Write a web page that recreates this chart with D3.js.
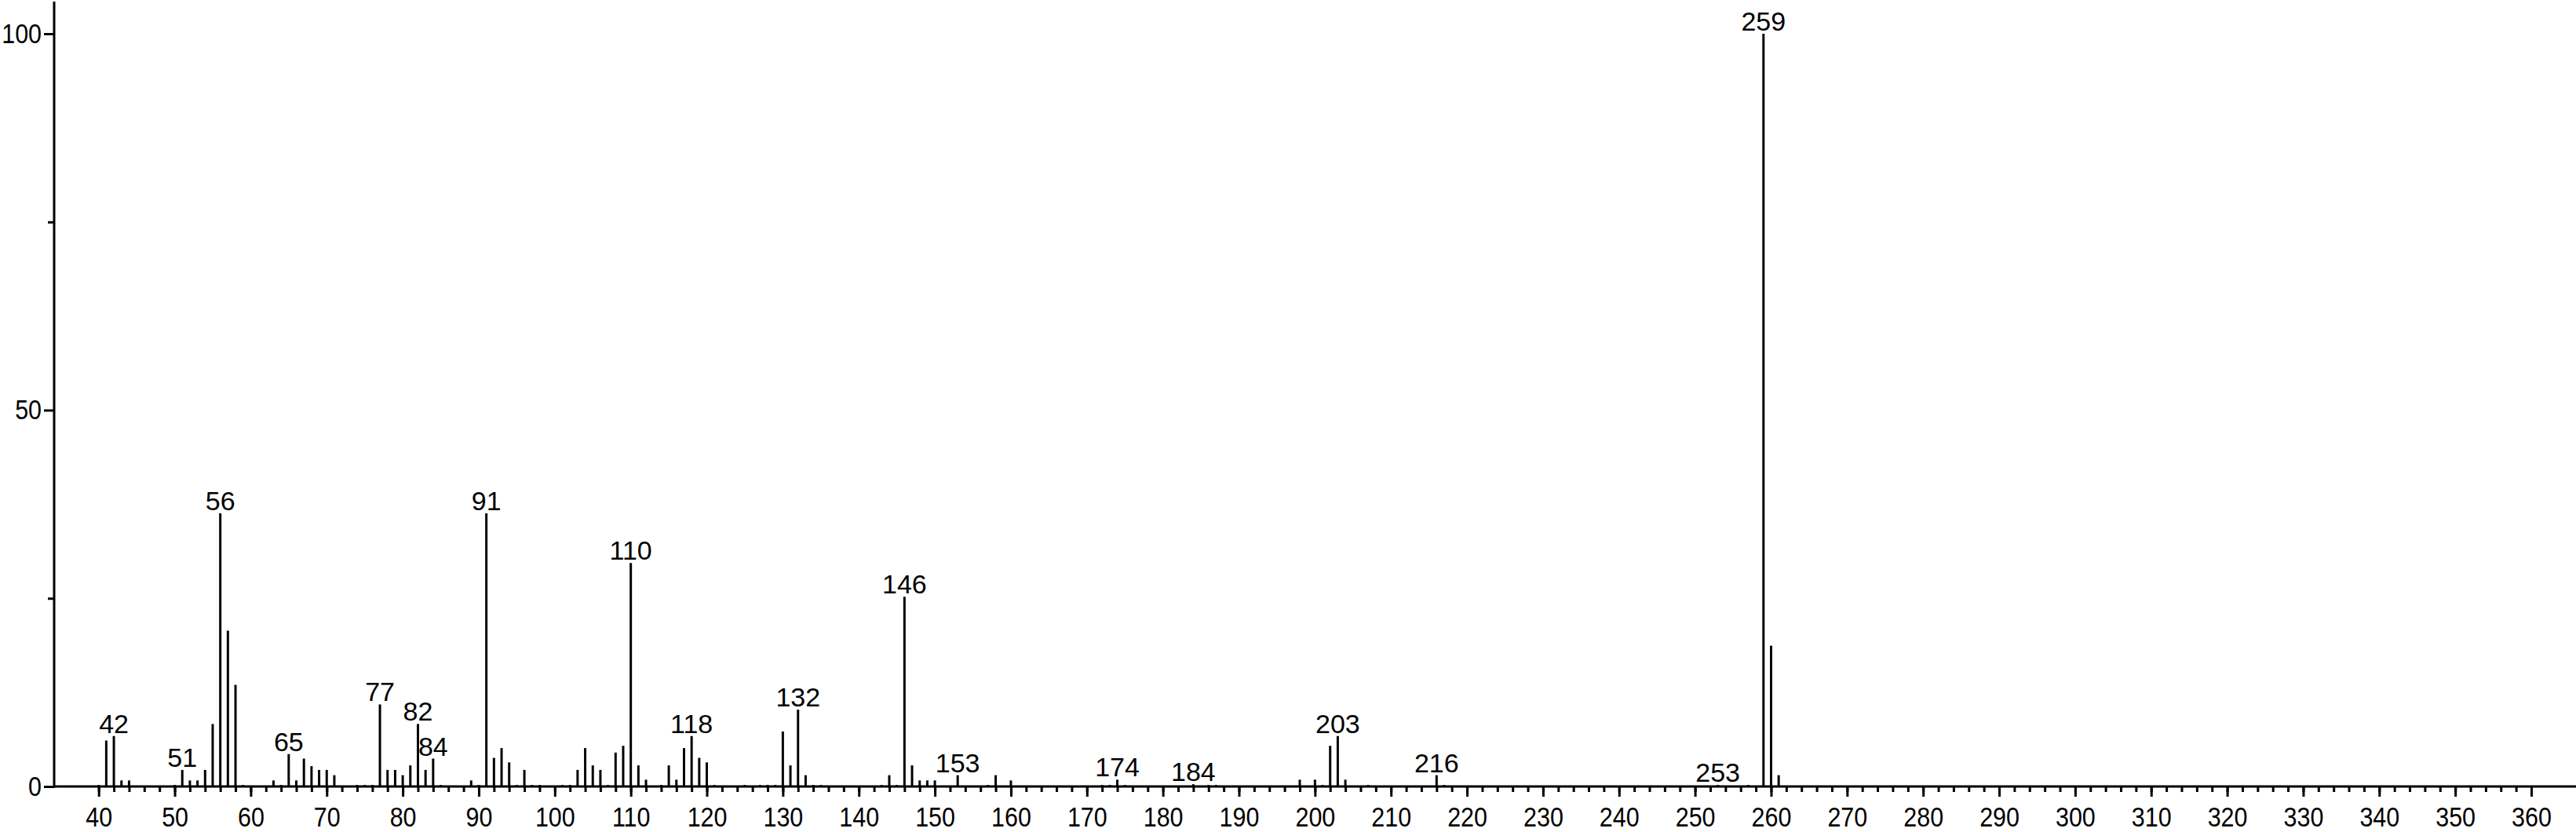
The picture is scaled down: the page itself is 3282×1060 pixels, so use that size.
<!DOCTYPE html>
<html>
<head>
<meta charset="utf-8">
<script src="https://cdn.jsdelivr.net/npm/d3@7"></script>
<style>
  html, body { margin: 0; padding: 0; background: #fff; }
  svg { display: block; font-family: "Liberation Sans", Arial, sans-serif; }
</style>
</head>
<body>
<svg id="chart" width="3282" height="1060"></svg>
<script>
// m/z and relative intensity
let mz = [40, 41, 42, 43, 44, 50, 51, 52, 53, 54, 55, 56, 57, 58, 59, 63, 64, 65, 66, 67, 68, 69, 70, 71,
  74, 75, 76, 77, 78, 79, 80, 81, 82, 83, 84, 85, 89, 90, 91, 92, 93, 94, 95, 96, 97, 98,
  101, 102, 103, 104, 105, 106, 107, 108, 109, 110, 111, 112, 114, 115, 116, 117, 118, 119, 120, 121,
  125, 127, 128, 129, 130, 131, 132, 133, 134, 135, 143, 144, 145, 146, 147, 148, 149, 150, 153, 157, 158, 160,
  172, 173, 174, 175, 184, 186, 187, 198, 200, 201, 202, 203, 204, 207, 216, 217, 253, 257, 259, 260, 261];
let intensity = [0.2, 6.1, 6.7, 0.8, 0.8, 0.2, 2.2, 0.8, 0.8, 2.2, 8.3, 36.3, 20.7, 13.5, 0.2, 0.8, 0.2, 4.3, 0.8, 3.7, 2.7, 2.2, 2.2, 1.5,
  0.2, 0.2, 0.2, 10.9, 2.2, 2.2, 1.5, 2.8, 8.3, 2.2, 3.7, 0.2, 0.8, 0.2, 36.3, 3.8, 5.1, 3.2, 0.2, 2.2, 0.2, 0.2,
  0.2, 0.2, 2.2, 5.1, 2.8, 2.2, 0.2, 4.5, 5.4, 29.7, 2.8, 0.9, 0.2, 2.8, 0.9, 5.1, 6.7, 3.8, 3.2, 0.2,
  0.2, 0.2, 0.2, 0.2, 7.3, 2.8, 10.2, 1.5, 0.2, 0.2, 0.2, 1.5, 0.2, 25.2, 2.8, 0.8, 0.8, 0.8, 1.5, 0.2, 1.5, 0.8,
  0.2, 0.2, 0.9, 0.2, 0.3, 0.2, 0.2, 0.9, 0.9, 0.2, 5.4, 6.7, 0.9, 0.2, 1.5, 0.2, 0.2, 0.2, 100, 18.7, 1.5];
let labeled = [42, 51, 56, 65, 77, 82, 84, 91, 110, 118, 132, 146, 153, 174, 184, 203, 216, 253, 259];
let xTicks = d3.range(40, 361, 10);
let xMinor = d3.range(40, 361, 2);
let yTicks = [0, 50, 100];
let yMinor = [25, 75];

var svg = d3.select('#chart');
var x = d3.scaleLinear().domain([40, 360]).range([125.7, 3225]);
var y = d3.scaleLinear().domain([0, 100]).range([1002, 43]);
var peaks = mz.map(function(m, i) { return {m: m, v: intensity[i]}; });
var squeeze = 0.87; // axis digits are a bit narrow in the original

// minor ticks first, major ticks on top
svg.append('g')
    .attr('transform', 'translate(0,' + y(0) + ')')
    .call(d3.axisBottom(x).tickValues(xMinor).tickSize(7).tickFormat(''))
    .call(function(g) { g.select('.domain').remove(); });
var gx = svg.append('g')
    .attr('transform', 'translate(0,' + y(0) + ')')
    .call(d3.axisBottom(x).tickValues(xTicks).tickSize(13).tickPadding(13).tickFormat(d3.format('d')));
gx.select('.domain').remove();
gx.selectAll('text')
    .attr('font-size', 35)
    .attr('font-family', '"Liberation Sans", Arial, sans-serif')
    .attr('fill', '#000')
    .attr('transform', 'scale(' + squeeze + ',1)');

svg.append('g')
    .attr('transform', 'translate(69,0)')
    .call(d3.axisLeft(y).tickValues(yMinor).tickSize(8).tickFormat(''))
    .call(function(g) { g.select('.domain').remove(); });
var gy = svg.append('g')
    .attr('transform', 'translate(69,0)')
    .call(d3.axisLeft(y).tickValues(yTicks).tickSize(13).tickPadding(3).tickFormat(d3.format('d')));
gy.select('.domain').remove();
gy.selectAll('text')
    .attr('font-size', 35)
    .attr('font-family', '"Liberation Sans", Arial, sans-serif')
    .attr('fill', '#000')
    .attr('x', -16 / squeeze)
    .attr('transform', 'scale(' + squeeze + ',1)');

svg.selectAll('.tick line').attr('stroke', '#000').attr('stroke-width', 3);

// axis lines
svg.append('line')
    .attr('x1', 69).attr('x2', 3282).attr('y1', y(0)).attr('y2', y(0))
    .attr('stroke', '#000').attr('stroke-width', 3);
svg.append('line')
    .attr('x1', 69).attr('x2', 69).attr('y1', 2).attr('y2', y(0) + 1.5)
    .attr('stroke', '#000').attr('stroke-width', 3);

// sticks
svg.append('g').selectAll('line')
    .data(peaks)
    .enter()
    .append('line')
    .attr('x1', function(d) { return x(d.m); })
    .attr('x2', function(d) { return x(d.m); })
    .attr('y1', y(0))
    .attr('y2', function(d) { return y(d.v); })
    .attr('stroke', '#000')
    .attr('stroke-width', 3);

// peak labels
svg.append('g').selectAll('text')
    .data(peaks.filter(function(d) { return labeled.indexOf(d.m) >= 0; }))
    .enter()
    .append('text')
    .attr('x', function(d) { return x(d.m); })
    .attr('y', function(d) { return y(d.v) - 4; })
    .attr('text-anchor', 'middle')
    .attr('font-size', 34)
    .attr('fill', '#000')
    .text(function(d) { return d.m; });
</script>
</body>
</html>
